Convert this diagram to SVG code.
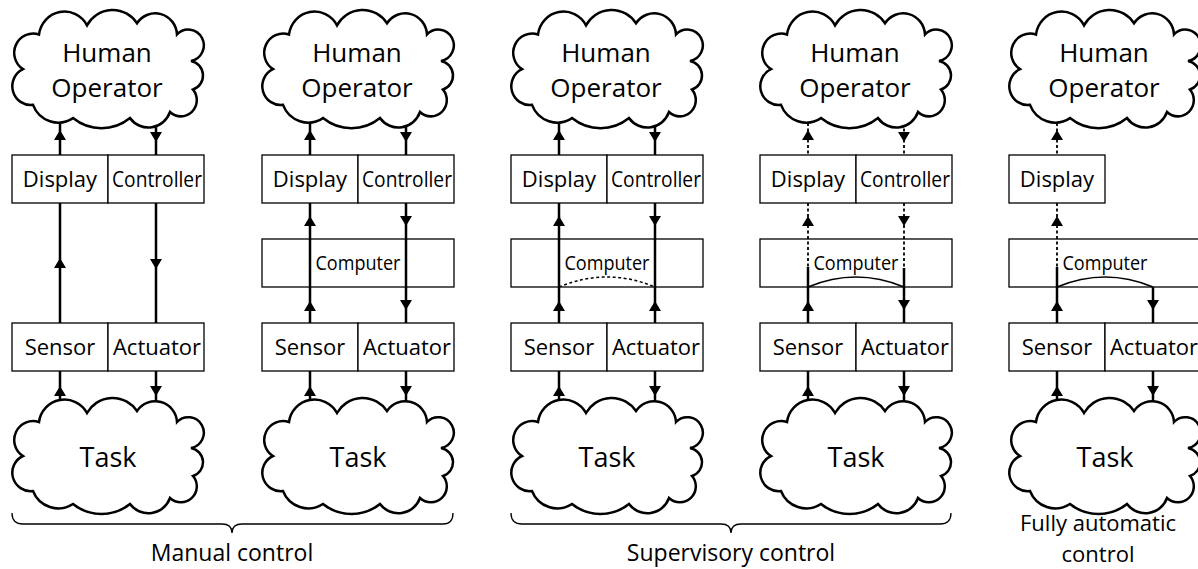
<svg xmlns="http://www.w3.org/2000/svg" width="1198" height="569" viewBox="0 0 1198 569">
  <style>
    .box { fill: #fff; stroke: #000; stroke-width: 1.3; }
    .cloud { fill: #fff; stroke: #000; stroke-width: 2.5; }
    .wire { stroke: #000; stroke-width: 2.5; fill: none; }
    .dot { stroke: #000; stroke-width: 1.8; stroke-dasharray: 3 2.5; fill: none; }
    .arc { stroke: #000; stroke-width: 1.5; fill: none; }
    .arc.dashed { stroke-dasharray: 3 2.5; }
    .brace { stroke: #000; stroke-width: 1.3; fill: none; }
    text { font-family: "Open Sans", "Liberation Sans", sans-serif; fill: #000; text-anchor: middle; }
    .big { font-size: 26px; }
    .task { font-size: 27px; }
    .lbl { font-size: 22px; }
    .cmp { font-size: 20px; }
    .cap { font-size: 23px; }
    .cap2 { font-size: 22px; }
  </style>
  <defs>
    <!-- cloud outline, local frame 190 x 116 -->
    <path id="cloud" d="M26,24 A25.65,25.65 0 0 1 74,15 A29.36,29.36 0 0 1 124,13 A21.84,21.84 0 0 1 164,24 A15.54,15.54 0 1 1 178,50 A14.46,14.46 0 0 1 180,78 A15.94,15.94 0 0 1 157,100 A22.95,22.95 0 0 1 117,106 A45.6,45.6 0 0 1 60,106 A27.1,27.1 0 0 1 20,93 A18.42,18.42 0 0 1 10,58 A18.94,18.94 0 0 1 26,24 Z"/>
    <!-- arrowheads, placed by their tip -->
    <path id="up" d="M0,0 L6,10 L-6,10 Z"/>
    <path id="dn" d="M0,0 L-6,-10 L6,-10 Z"/>
  </defs>

  <!-- ===== boxes ===== -->
  <g id="c1-display"><rect class="box" x="12" y="155" width="96" height="48"/><text class="lbl" x="60" y="187">Display</text></g>
  <g id="c1-controller"><rect class="box" x="108" y="155" width="96" height="48"/><text class="lbl" x="157" y="187" textLength="90" lengthAdjust="spacingAndGlyphs">Controller</text></g>
  <g id="c1-sensor"><rect class="box" x="12" y="323" width="96" height="48"/><text class="lbl" x="60" y="355">Sensor</text></g>
  <g id="c1-actuator"><rect class="box" x="108" y="323" width="96" height="48"/><text class="lbl" x="157" y="355">Actuator</text></g>

  <g id="c2-display"><rect class="box" x="262" y="155" width="96" height="48"/><text class="lbl" x="310" y="187">Display</text></g>
  <g id="c2-controller"><rect class="box" x="358" y="155" width="96" height="48"/><text class="lbl" x="407" y="187" textLength="90" lengthAdjust="spacingAndGlyphs">Controller</text></g>
  <g id="c2-computer"><rect class="box" x="262" y="239" width="192" height="48"/><text class="cmp" x="358" y="270" textLength="85" lengthAdjust="spacingAndGlyphs">Computer</text></g>
  <g id="c2-sensor"><rect class="box" x="262" y="323" width="96" height="48"/><text class="lbl" x="310" y="355">Sensor</text></g>
  <g id="c2-actuator"><rect class="box" x="358" y="323" width="96" height="48"/><text class="lbl" x="407" y="355">Actuator</text></g>

  <g id="c3-display"><rect class="box" x="511" y="155" width="96" height="48"/><text class="lbl" x="559" y="187">Display</text></g>
  <g id="c3-controller"><rect class="box" x="607" y="155" width="96" height="48"/><text class="lbl" x="656" y="187" textLength="90" lengthAdjust="spacingAndGlyphs">Controller</text></g>
  <g id="c3-computer"><rect class="box" x="511" y="239" width="192" height="48"/><text class="cmp" x="607" y="270" textLength="85" lengthAdjust="spacingAndGlyphs">Computer</text></g>
  <g id="c3-sensor"><rect class="box" x="511" y="323" width="96" height="48"/><text class="lbl" x="559" y="355">Sensor</text></g>
  <g id="c3-actuator"><rect class="box" x="607" y="323" width="96" height="48"/><text class="lbl" x="656" y="355">Actuator</text></g>

  <g id="c4-display"><rect class="box" x="760" y="155" width="96" height="48"/><text class="lbl" x="808" y="187">Display</text></g>
  <g id="c4-controller"><rect class="box" x="856" y="155" width="96" height="48"/><text class="lbl" x="905" y="187" textLength="90" lengthAdjust="spacingAndGlyphs">Controller</text></g>
  <g id="c4-computer"><rect class="box" x="760" y="239" width="192" height="48"/><text class="cmp" x="856" y="270" textLength="85" lengthAdjust="spacingAndGlyphs">Computer</text></g>
  <g id="c4-sensor"><rect class="box" x="760" y="323" width="96" height="48"/><text class="lbl" x="808" y="355">Sensor</text></g>
  <g id="c4-actuator"><rect class="box" x="856" y="323" width="96" height="48"/><text class="lbl" x="905" y="355">Actuator</text></g>

  <g id="c5-display"><rect class="box" x="1009" y="155" width="96" height="48"/><text class="lbl" x="1057" y="187">Display</text></g>
  <g id="c5-computer"><rect class="box" x="1009" y="239" width="192" height="48"/><text class="cmp" x="1105" y="270" textLength="85" lengthAdjust="spacingAndGlyphs">Computer</text></g>
  <g id="c5-sensor"><rect class="box" x="1009" y="323" width="96" height="48"/><text class="lbl" x="1057" y="355">Sensor</text></g>
  <g id="c5-actuator"><rect class="box" x="1105" y="323" width="96" height="48"/><text class="lbl" x="1154" y="355">Actuator</text></g>

  <!-- ===== connectors ===== -->
  <g id="connectors">
    <!-- manual control -->
    <path class="wire" d="M60,112 V155 M60,203 V323 M60,371 V410 M156,112 V155 M156,203 V323 M156,371 V412"/>
    <use href="#up" x="60" y="130"/><use href="#up" x="60" y="258"/><use href="#up" x="60" y="386"/>
    <use href="#dn" x="156" y="142"/><use href="#dn" x="156" y="269"/><use href="#dn" x="156" y="396"/>

    <!-- computer-aided manual control -->
    <path class="wire" d="M310,112 V155 M310,203 V323 M310,371 V410 M406,112 V155 M406,203 V323 M406,371 V412"/>
    <use href="#up" x="310" y="130"/><use href="#up" x="310" y="216"/><use href="#up" x="310" y="301"/><use href="#up" x="310" y="386"/>
    <use href="#dn" x="406" y="142"/><use href="#dn" x="406" y="226"/><use href="#dn" x="406" y="310"/><use href="#dn" x="406" y="396"/>

    <!-- supervisory control, loop through the computer -->
    <path class="wire" d="M559,112 V155 M559,203 V323 M559,371 V410 M655,112 V155 M655,203 V323 M655,371 V412"/>
    <path class="arc dashed" d="M559,287 Q607,267 655,287"/>
    <use href="#up" x="559" y="130"/><use href="#up" x="559" y="216"/><use href="#up" x="559" y="301"/><use href="#up" x="559" y="386"/>
    <use href="#dn" x="655" y="142"/><use href="#dn" x="655" y="226"/><use href="#up" x="655" y="301"/><use href="#dn" x="655" y="396"/>

    <!-- supervisory control, closed computer loop -->
    <path class="dot" d="M808,112 V155 M808,203 V267 M904,112 V155 M904,203 V268"/>
    <path class="wire" d="M808,267 V323 M808,371 V410 M904,268 V323 M904,371 V412"/>
    <path class="arc" d="M808,287 Q856,267 904,287"/>
    <use href="#up" x="808" y="130"/><use href="#up" x="808" y="216"/><use href="#up" x="808" y="301"/><use href="#up" x="808" y="386"/>
    <use href="#dn" x="904" y="142"/><use href="#dn" x="904" y="226"/><use href="#dn" x="904" y="310"/><use href="#dn" x="904" y="396"/>

    <!-- fully automatic control -->
    <path class="dot" d="M1057,112 V155 M1057,203 V267"/>
    <path class="wire" d="M1057,267 V323 M1057,371 V410 M1153,287 V323 M1153,371 V412"/>
    <path class="arc" d="M1057,287 Q1105,267 1153,287"/>
    <use href="#up" x="1057" y="130"/><use href="#up" x="1057" y="216"/><use href="#up" x="1057" y="301"/><use href="#up" x="1057" y="386"/>
    <use href="#dn" x="1153" y="310"/><use href="#dn" x="1153" y="396"/>
  </g>

  <!-- ===== clouds ===== -->
  <g id="c1-human"><use href="#cloud" class="cloud" transform="translate(13,10) scale(1,1.02)"/><text class="big" x="107" y="62">Human</text><text class="big" x="107" y="97">Operator</text></g>
  <g id="c1-task"><use href="#cloud" class="cloud" transform="translate(13,398)"/><text class="task" x="108" y="467">Task</text></g>
  <g id="c2-human"><use href="#cloud" class="cloud" transform="translate(263,10) scale(1,1.02)"/><text class="big" x="357" y="62">Human</text><text class="big" x="357" y="97">Operator</text></g>
  <g id="c2-task"><use href="#cloud" class="cloud" transform="translate(263,398)"/><text class="task" x="358" y="467">Task</text></g>
  <g id="c3-human"><use href="#cloud" class="cloud" transform="translate(512,10) scale(1,1.02)"/><text class="big" x="606" y="62">Human</text><text class="big" x="606" y="97">Operator</text></g>
  <g id="c3-task"><use href="#cloud" class="cloud" transform="translate(512,398)"/><text class="task" x="607" y="467">Task</text></g>
  <g id="c4-human"><use href="#cloud" class="cloud" transform="translate(761,10) scale(1,1.02)"/><text class="big" x="855" y="62">Human</text><text class="big" x="855" y="97">Operator</text></g>
  <g id="c4-task"><use href="#cloud" class="cloud" transform="translate(761,398)"/><text class="task" x="856" y="467">Task</text></g>
  <g id="c5-human"><use href="#cloud" class="cloud" transform="translate(1010,10) scale(1,1.02)"/><text class="big" x="1104" y="62">Human</text><text class="big" x="1104" y="97">Operator</text></g>
  <g id="c5-task"><use href="#cloud" class="cloud" transform="translate(1010,398)"/><text class="task" x="1105" y="467">Task</text></g>

  <!-- ===== group braces and captions ===== -->
  <g id="manual-caption">
    <path class="brace" d="M12,513 Q12,524 23,524 H222 Q232,524 232,533 Q232,524 242,524 H443 Q453,524 453,513"/>
    <text class="cap" x="232" y="561">Manual control</text>
  </g>
  <g id="supervisory-caption">
    <path class="brace" d="M511,513 Q511,524 522,524 H721 Q731,524 731,533 Q731,524 741,524 H940 Q951,524 951,513"/>
    <text class="cap" x="731" y="561">Supervisory control</text>
  </g>
  <g id="automatic-caption">
    <text class="cap2" x="1098" y="531">Fully automatic</text>
    <text class="cap2" x="1098" y="562">control</text>
  </g>
</svg>
